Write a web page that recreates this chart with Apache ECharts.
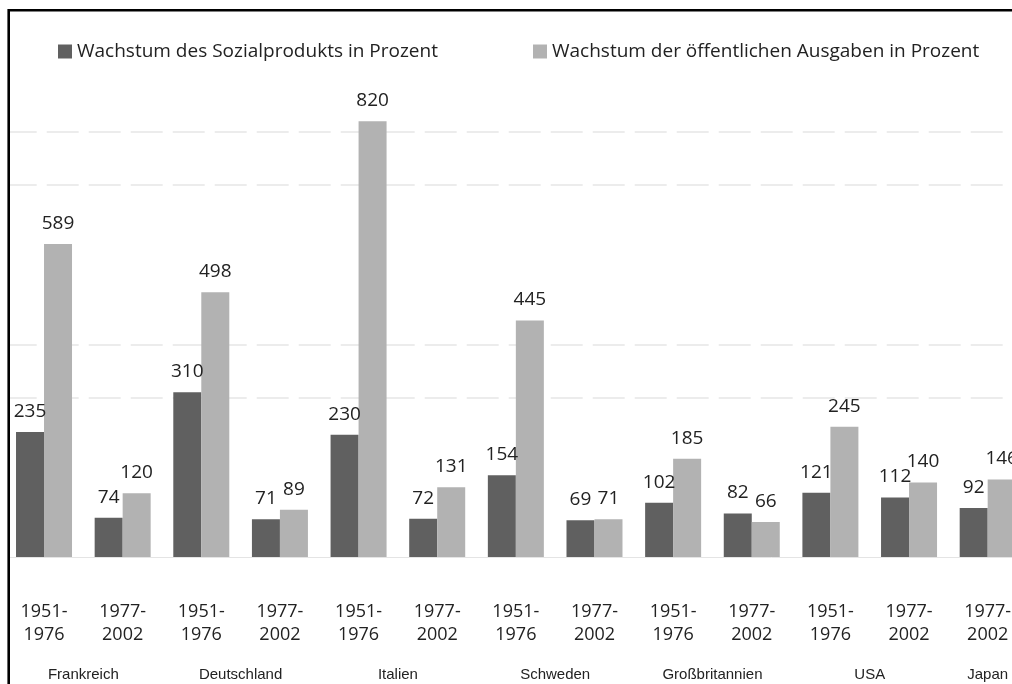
<!DOCTYPE html>
<html>
<head>
<meta charset="utf-8">
<title>Wachstum</title>
<script src="https://cdn.jsdelivr.net/npm/echarts@6.0.0/dist/echarts.min.js"></script>
<style>
  html, body { margin: 0; padding: 0; background: #fff; overflow: hidden; }
  /* Diagramm ist rechts angeschnitten, daher breiter als das Fenster */
  #main { width: 1027px; height: 684px; }
</style>
</head>
<body>
<div id="main"></div>
<script>
// Zeiträume (x-Achse)
var periods = ['1951-\n1976', '1977-\n2002', '1951-\n1976', '1977-\n2002', '1951-\n1976', '1977-\n2002',
  '1951-\n1976', '1977-\n2002', '1951-\n1976', '1977-\n2002', '1951-\n1976', '1977-\n2002', '1977-\n2002'];
// Länder und wie viele Zeiträume jeweils
var countries = ['Frankreich', 'Deutschland', 'Italien', 'Schweden', 'Großbritannien', 'USA', 'Japan'];
var countryPeriods = [2, 2, 2, 2, 2, 2, 1];
var seriesNames = ['Wachstum des Sozialprodukts in Prozent', 'Wachstum der öffentlichen Ausgaben in Prozent'];
var sozialprodukt = [235, 74, 310, 71, 230, 72, 154, 69, 102, 82, 121, 112, 92];
var ausgaben = [589, 120, 498, 89, 820, 131, 445, 71, 185, 66, 245, 140, 146];
var gridValues = [300, 400, 700, 800];

var colors = ['#606060', '#b2b2b2'];
var textColor = '#222';

// Mitte jeder Ländergruppe auf der Kategorienachse
var countryCenter = [];
var countryByPos = {};
var start = 0;
countries.forEach(function (c, i) {
  var mid = start + (countryPeriods[i] - 1) / 2;
  countryCenter.push(mid);
  countryByPos[mid] = c;
  start += countryPeriods[i];
});

var myChart = echarts.init(document.getElementById('main'));

var labelStyle = {
  show: true,
  position: 'top',
  distance: 11,
  color: textColor,
  fontFamily: 'Open Sans',
  fontSize: 19
};

var legendText = { color: textColor, fontFamily: 'Open Sans', fontSize: 19 };

myChart.setOption({
  animation: false,
  color: colors,
  legend: [{
    data: [seriesNames[0]],
    left: 53,
    top: 37,
    icon: 'rect',
    itemWidth: 14,
    itemHeight: 14,
    itemGap: 0,
    textStyle: legendText
  }, {
    data: [seriesNames[1]],
    left: 528,
    top: 37,
    icon: 'rect',
    itemWidth: 14,
    itemHeight: 14,
    itemGap: 0,
    textStyle: legendText
  }],
  grid: {
    left: 4.7,
    right: 0,
    top: 25.5,
    bottom: 127
  },
  xAxis: [{
    type: 'category',
    data: periods,
    position: 'bottom',
    axisLine: { lineStyle: { color: '#e4e4e4', width: 1 } },
    axisTick: { show: false },
    axisLabel: {
      interval: 0,
      margin: 43,
      color: textColor,
      fontFamily: 'Open Sans',
      fontSize: 18,
      lineHeight: 23
    }
  }, {
    type: 'value',
    position: 'bottom',
    min: -0.5,
    max: periods.length - 0.5,
    axisLine: { show: false },
    axisTick: { show: false },
    splitLine: { show: false },
    axisLabel: {
      customValues: countryCenter,
      margin: 110,
      color: textColor,
      fontFamily: 'Liberation Sans',
      fontSize: 15,
      formatter: function (v) { return countryByPos[v] || ''; }
    }
  }],
  yAxis: {
    type: 'value',
    min: 0,
    max: 1000,
    show: false,
    splitLine: { show: false }
  },
  series: [{
    name: seriesNames[0],
    type: 'bar',
    z: 3,
    data: sozialprodukt,
    barWidth: 28,
    barGap: 0,
    label: labelStyle,
    markLine: {
      silent: true,
      z: 1,
      symbol: 'none',
      label: { show: false },
      lineStyle: { type: [32, 10], color: '#e6e6e6', width: 1.5 },
      data: gridValues.map(function (v) { return { yAxis: v }; })
    }
  }, {
    name: seriesNames[1],
    type: 'bar',
    z: 3,
    data: ausgaben,
    barWidth: 28,
    barGap: 0,
    label: labelStyle
  }],
  // Rahmen oben und links (Bildausschnitt)
  graphic: [{
    type: 'rect',
    z: 99,
    shape: { x: 0, y: 0, width: 8, height: 684 },
    style: { fill: '#fff' },
    silent: true
  }, {
    type: 'polyline',
    z: 100,
    shape: { points: [[8.7, 684], [8.7, 10.3], [1027, 10.3]] },
    style: { stroke: '#000', lineWidth: 2.6, fill: null },
    silent: true
  }]
});
</script>
</body>
</html>
